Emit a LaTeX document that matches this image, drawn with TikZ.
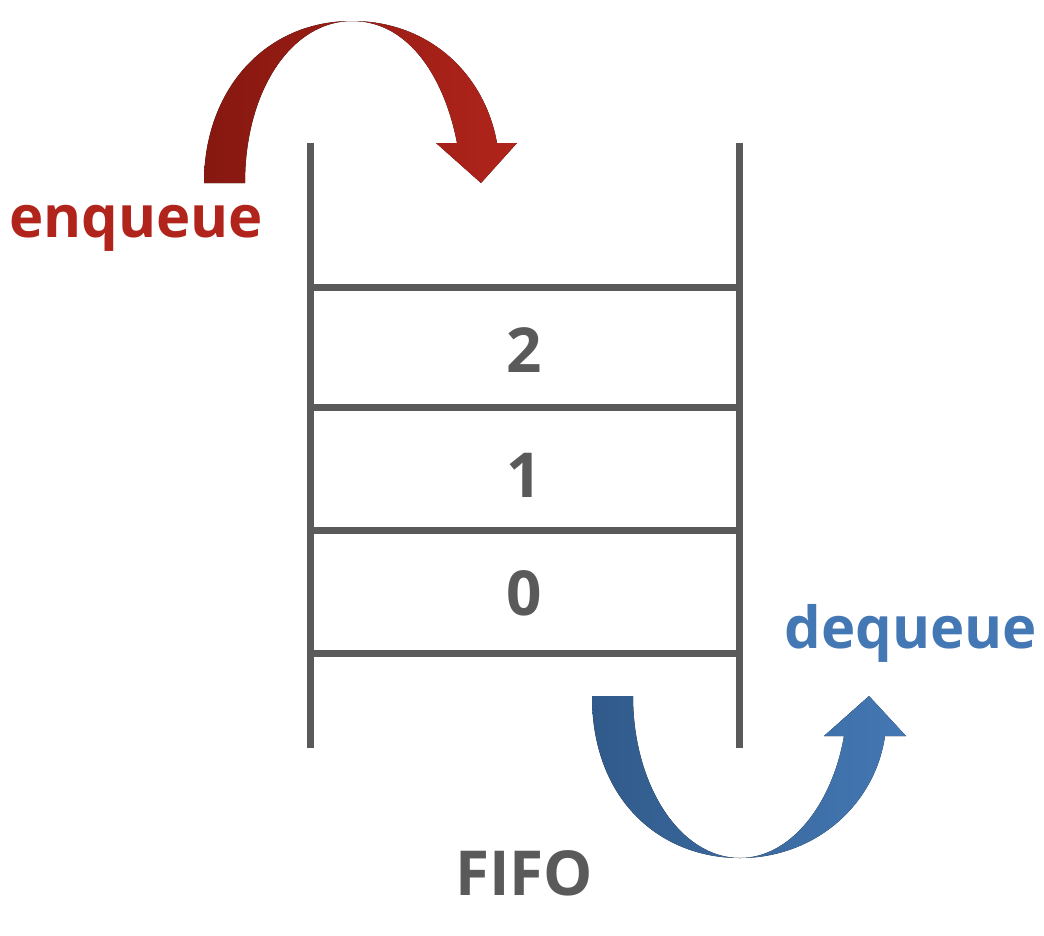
\documentclass[tikz,border=0pt]{standalone}
\usepackage{fontspec}
\setmainfont{Open Sans}
\usepackage{tikz}

\definecolor{qgray}{HTML}{5A5A5A}
\definecolor{enqred}{HTML}{B0241B}
\definecolor{enqdark}{HTML}{861810}
\definecolor{deqblue}{HTML}{4478B4}
\definecolor{deqdark}{HTML}{305A8A}

\begin{document}
\begin{tikzpicture}[x=1pt,y=-1pt,
  wall/.style={draw=qgray,line width=7pt},
  cellnum/.style={anchor=base,text=qgray,font=\fontsize{62}{62}\selectfont\bfseries},
  oplabel/.style={anchor=base,font=\fontsize{58}{58}\selectfont\bfseries}]
 \useasboundingbox (0,0) rectangle (1044,935);
 % queue walls and cells
 \draw[wall] (310,143) -- (310,748);
 \draw[wall] (739,143) -- (739,748);
 \foreach \y in {287,407,530,653}
   \draw[wall] (310,\y) -- (739,\y);
 \node[cellnum] (two) at (524,372) {2};
 \node[cellnum] (one) at (524,497) {1};
 \node[cellnum] (zero) at (524,615) {0};
 % enqueue arrow
 \fill[left color=enqdark,right color=enqred]
   (204,183) .. controls (204,90) and (265,21) .. (352,21)
   .. controls (430,21) and (485,75) .. (497,143)
   -- (517,143) -- (481,183) -- (436,143) -- (457,143)
   .. controls (445,80) and (410,21) .. (352,21)
   .. controls (292,21) and (245,90) .. (245,183) -- cycle;
 \node[oplabel,text=enqred] (enq) at (136,237) {enqueue};
 % dequeue arrow
 \fill[left color=deqdark,right color=deqblue]
   (592,696) .. controls (592,800) and (660,858) .. (740,858)
   .. controls (815,858) and (875,805) .. (885,736)
   -- (906,736) -- (869,696) -- (824,736) -- (844,736)
   .. controls (832,805) and (790,858) .. (740,858)
   .. controls (680,858) and (633,785) .. (633,696) -- cycle;
 \node[oplabel,text=deqblue] (deq) at (911,648) {dequeue};
 \node[cellnum] (fifo) at (524,895) {FIFO};
\end{tikzpicture}
\end{document}
